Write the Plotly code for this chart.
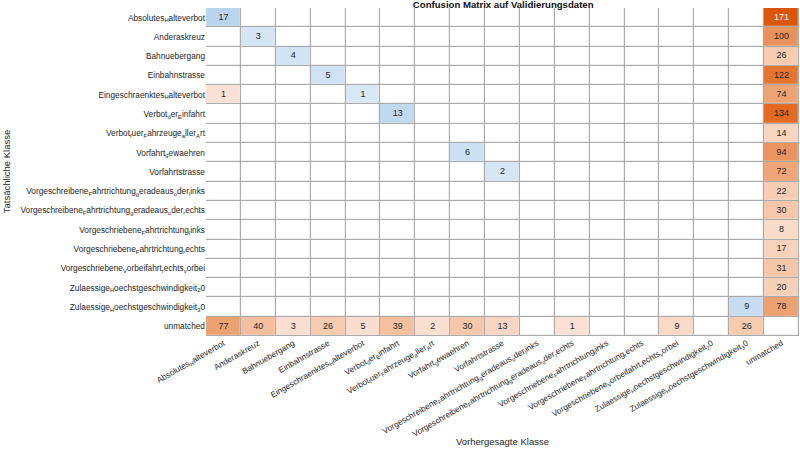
import plotly.graph_objects as go

classes = [
    "Absolutes<sub>H</sub>alteverbot",
    "Anderaskreuz",
    "Bahnuebergang",
    "Einbahnstrasse",
    "Eingeschraenktes<sub>H</sub>alteverbot",
    "Verbot<sub>d</sub>er<sub>E</sub>infahrt",
    "Verbot<sub>f</sub>uer<sub>F</sub>ahrzeuge<sub>a</sub>ller<sub>A</sub>rt",
    "Vorfahrt<sub>g</sub>ewaehren",
    "Vorfahrtstrasse",
    "Vorgeschreibene<sub>F</sub>ahrtrichtung<sub>g</sub>eradeaus<sub>o</sub>der<sub>l</sub>inks",
    "Vorgeschreibene<sub>F</sub>ahrtrichtung<sub>g</sub>eradeaus<sub>o</sub>der<sub>r</sub>echts",
    "Vorgeschriebene<sub>F</sub>ahrtrichtung<sub>l</sub>inks",
    "Vorgeschriebene<sub>F</sub>ahrtrichtung<sub>r</sub>echts",
    "Vorgeschriebene<sub>V</sub>orbeifahrt<sub>r</sub>echts<sub>v</sub>orbei",
    "Zulaessige<sub>H</sub>oechstgeschwindigkeit<sub>2</sub>0",
    "Zulaessige<sub>H</sub>oechstgeschwindigkeit<sub>3</sub>0",
    "unmatched",
]

# rows = actual class, columns = predicted class
matrix = [
    [17, 0, 0, 0, 0, 0, 0, 0, 0, 0, 0, 0, 0, 0, 0, 0, 171],
    [0, 3, 0, 0, 0, 0, 0, 0, 0, 0, 0, 0, 0, 0, 0, 0, 100],
    [0, 0, 4, 0, 0, 0, 0, 0, 0, 0, 0, 0, 0, 0, 0, 0, 26],
    [0, 0, 0, 5, 0, 0, 0, 0, 0, 0, 0, 0, 0, 0, 0, 0, 122],
    [1, 0, 0, 0, 1, 0, 0, 0, 0, 0, 0, 0, 0, 0, 0, 0, 74],
    [0, 0, 0, 0, 0, 13, 0, 0, 0, 0, 0, 0, 0, 0, 0, 0, 134],
    [0, 0, 0, 0, 0, 0, 0, 0, 0, 0, 0, 0, 0, 0, 0, 0, 14],
    [0, 0, 0, 0, 0, 0, 0, 6, 0, 0, 0, 0, 0, 0, 0, 0, 94],
    [0, 0, 0, 0, 0, 0, 0, 0, 2, 0, 0, 0, 0, 0, 0, 0, 72],
    [0, 0, 0, 0, 0, 0, 0, 0, 0, 0, 0, 0, 0, 0, 0, 0, 22],
    [0, 0, 0, 0, 0, 0, 0, 0, 0, 0, 0, 0, 0, 0, 0, 0, 30],
    [0, 0, 0, 0, 0, 0, 0, 0, 0, 0, 0, 0, 0, 0, 0, 0, 8],
    [0, 0, 0, 0, 0, 0, 0, 0, 0, 0, 0, 0, 0, 0, 0, 0, 17],
    [0, 0, 0, 0, 0, 0, 0, 0, 0, 0, 0, 0, 0, 0, 0, 0, 31],
    [0, 0, 0, 0, 0, 0, 0, 0, 0, 0, 0, 0, 0, 0, 0, 0, 20],
    [0, 0, 0, 0, 0, 0, 0, 0, 0, 0, 0, 0, 0, 0, 0, 9, 78],
    [77, 40, 3, 26, 5, 39, 2, 30, 13, 0, 1, 0, 0, 9, 0, 26, 0],
]

n = len(classes)
idx = list(range(n))
unmatched_idx = n - 1

z_white = [[0 for _ in idx] for _ in idx]
z_blue = [[None] * n for _ in idx]
z_orange = [[None] * n for _ in idx]
tx_dark, ty_dark, tt_dark = [], [], []
tx_light, ty_light, tt_light = [], [], []
for r in idx:
    for c in idx:
        v = matrix[r][c]
        if v == 0:
            continue
        if r == c and r != unmatched_idx:
            z_blue[r][c] = v
        else:
            z_orange[r][c] = v
        if v > 150:
            tx_light.append(c); ty_light.append(r); tt_light.append(str(v))
        else:
            tx_dark.append(c); ty_dark.append(r); tt_dark.append(str(v))

FONT = "Liberation Sans, Arial"
gap = 1.2
fig = go.Figure()
fig.add_trace(go.Heatmap(z=z_white, x=idx, y=idx, colorscale=[[0, "white"], [1, "white"]],
                         showscale=False, xgap=gap, ygap=gap, hoverinfo="skip"))
fig.add_trace(go.Heatmap(z=z_blue, x=idx, y=idx, zmin=0, zmax=20,
                         colorscale=[[0, "#dbe9f6"], [0.3, "#cde0f2"], [1, "#b4d1eb"]],
                         showscale=False, xgap=gap, ygap=gap, hoverongaps=False))
fig.add_trace(go.Heatmap(z=z_orange, x=idx, y=idx, zmin=0, zmax=171,
                         colorscale=[[0, "#fbe2d4"], [0.15, "#f6cbb0"], [0.45, "#eda171"],
                                     [0.6, "#e98f57"], [0.75, "#e36d25"], [1, "#d9560a"]],
                         showscale=False, xgap=gap, ygap=gap, hoverongaps=False))
fig.add_trace(go.Scatter(x=tx_dark, y=ty_dark, text=tt_dark, mode="text",
                         textfont=dict(family=FONT, size=9, color="#262626"),
                         hoverinfo="skip", showlegend=False))
fig.add_trace(go.Scatter(x=tx_light, y=ty_light, text=tt_light, mode="text",
                         textfont=dict(family=FONT, size=9, color="white"),
                         hoverinfo="skip", showlegend=False))

fig.update_layout(
    width=800, height=450,
    margin=dict(l=206, r=1, t=8, b=114),
    paper_bgcolor="white",
    plot_bgcolor="#ababab",
    font=dict(family=FONT, size=8.3, color="#262626"),
    title=dict(text="<b>Confusion Matrix auf Validierungsdaten</b>", x=0.629, xanchor="center",
               xref="container", yref="container", y=0.998, yanchor="top",
               font=dict(size=9.6, color="#111")),
    showlegend=False,
    annotations=[
        dict(text="Vorhergesagte Klasse", xref="paper", yref="paper", x=0.5, y=-0.323,
             xanchor="center", yanchor="middle", showarrow=False,
             font=dict(family=FONT, size=9.5, color="#262626")),
        dict(text="Tatsächliche Klasse", xref="paper", yref="paper", x=-0.337, y=0.5,
             xanchor="center", yanchor="middle", showarrow=False, textangle=-90,
             font=dict(family=FONT, size=9.5, color="#262626")),
    ],
)
fig.update_xaxes(
    tickmode="array", tickvals=idx, ticktext=classes, tickangle=-30,
    range=[-0.5, n - 0.5], showgrid=False, zeroline=False, ticks="",
    tickfont=dict(size=8.3), automargin=False,
)
fig.update_yaxes(
    tickmode="array", tickvals=idx, ticktext=classes,
    range=[n - 0.5, -0.5], showgrid=False, zeroline=False, ticks="",
    tickfont=dict(size=8.3), automargin=False,
)
fig.write_html("out.html", post_script="document.body.style.margin='0';",
               config={"displayModeBar": False})
